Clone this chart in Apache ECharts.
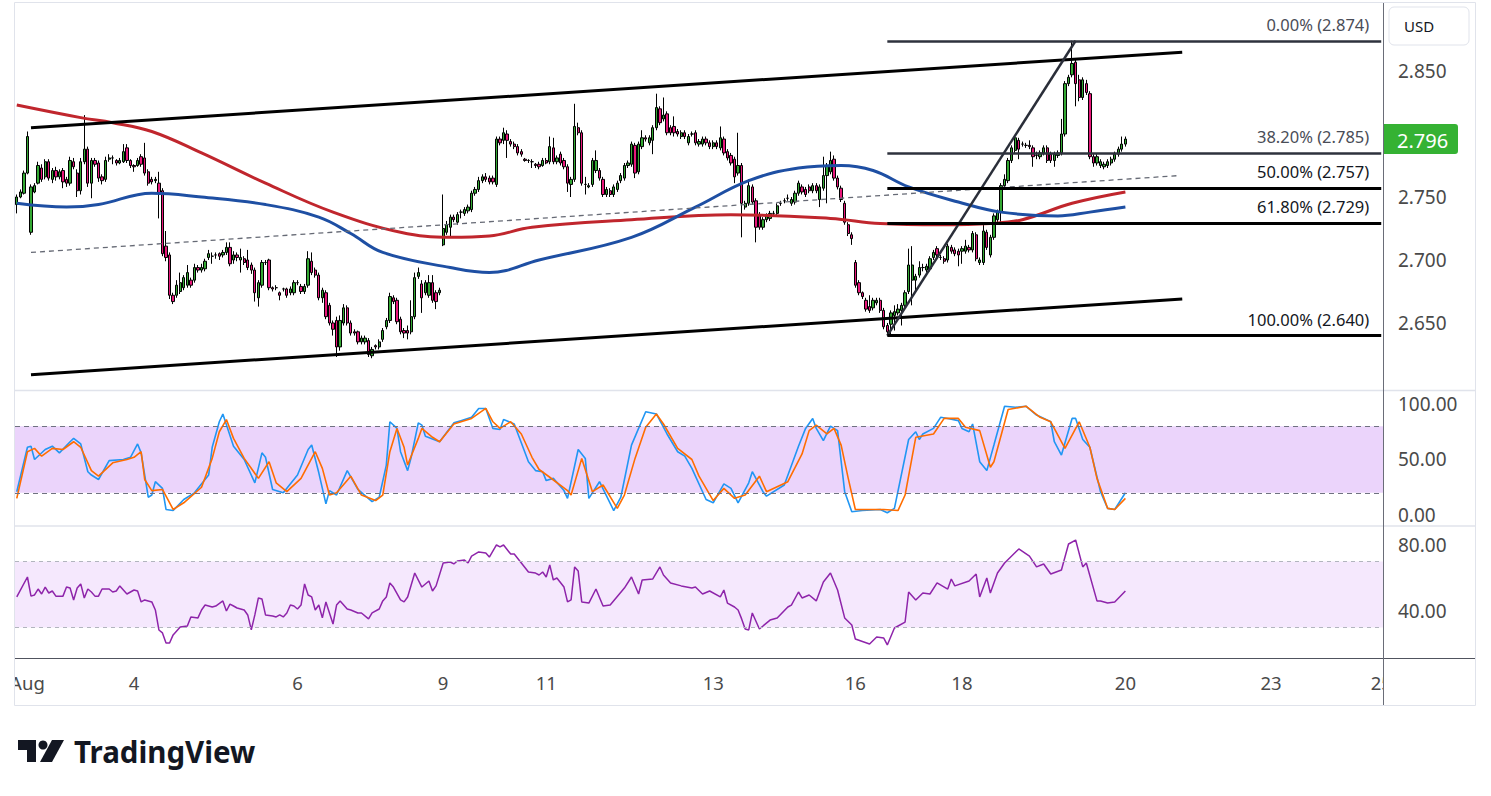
<!DOCTYPE html>
<html>
<head>
<meta charset="utf-8">
<title>Price chart</title>
<script src="https://cdn.jsdelivr.net/npm/echarts@6/dist/echarts.min.js"></script>
<style>
  html, body { margin: 0; padding: 0; background: #fff; }
  #chart { width: 1491px; height: 796px; }
</style>
</head>
<body>
<div id="chart"></div>
<script>
// hourly candles, one per slot from slot 0: [open, close, low, high]
const candles = [
  [2.744,2.750,2.737,2.752],[2.750,2.754,2.749,2.756],[2.753,2.769,2.752,2.771],[2.769,2.798,2.768,2.802],[2.722,2.758,2.720,2.760],
  [2.754,2.759,2.753,2.761],[2.761,2.775,2.760,2.778],[2.773,2.764,2.762,2.776],[2.766,2.778,2.764,2.780],[2.778,2.765,2.763,2.780],
  [2.764,2.771,2.761,2.773],[2.771,2.766,2.763,2.774],[2.766,2.770,2.764,2.772],[2.771,2.762,2.757,2.773],[2.764,2.761,2.758,2.766],
  [2.761,2.779,2.759,2.782],[2.778,2.774,2.772,2.781],[2.769,2.755,2.750,2.772],[2.755,2.778,2.752,2.781],[2.778,2.788,2.776,2.815],
  [2.788,2.761,2.758,2.790],[2.761,2.779,2.749,2.781],[2.779,2.776,2.774,2.781],[2.777,2.765,2.762,2.779],[2.766,2.763,2.760,2.768],
  [2.764,2.779,2.762,2.782],[2.780,2.781,2.778,2.784],[2.781,2.781,2.776,2.783],[2.779,2.777,2.775,2.780],[2.777,2.779,2.776,2.781],
  [2.778,2.786,2.777,2.792],[2.789,2.779,2.777,2.792],[2.779,2.775,2.773,2.780],[2.775,2.774,2.770,2.776],[2.775,2.779,2.774,2.781],
  [2.782,2.776,2.774,2.784],[2.781,2.769,2.767,2.793],[2.770,2.761,2.759,2.772],[2.764,2.762,2.760,2.766],[2.763,2.764,2.761,2.766],
  [2.761,2.753,2.733,2.770],[2.755,2.705,2.703,2.757],[2.711,2.702,2.699,2.723],[2.704,2.672,2.669,2.706],[2.672,2.667,2.665,2.674],
  [2.672,2.680,2.670,2.684],[2.675,2.682,2.673,2.690],[2.678,2.686,2.676,2.688],[2.680,2.690,2.678,2.696],[2.684,2.680,2.678,2.686],
  [2.684,2.694,2.682,2.697],[2.694,2.692,2.690,2.696],[2.692,2.694,2.690,2.697],[2.693,2.699,2.691,2.701],[2.702,2.705,2.700,2.708],
  [2.703,2.703,2.697,2.706],[2.704,2.704,2.701,2.706],[2.705,2.703,2.700,2.706],[2.704,2.706,2.702,2.708],[2.706,2.710,2.704,2.714],
  [2.710,2.697,2.695,2.714],[2.700,2.704,2.697,2.707],[2.704,2.702,2.699,2.706],[2.700,2.702,2.690,2.709],[2.701,2.698,2.696,2.703],
  [2.700,2.694,2.692,2.708],[2.696,2.692,2.689,2.698],[2.692,2.674,2.667,2.694],[2.670,2.682,2.663,2.684],[2.680,2.698,2.678,2.700],
  [2.698,2.698,2.696,2.700],[2.700,2.678,2.676,2.701],[2.678,2.677,2.675,2.679],[2.678,2.678,2.676,2.680],[2.674,2.672,2.668,2.675],
  [2.677,2.677,2.675,2.678],[2.677,2.672,2.670,2.678],[2.674,2.677,2.672,2.679],[2.674,2.682,2.672,2.684],[2.682,2.682,2.680,2.684],
  [2.679,2.675,2.673,2.681],[2.675,2.679,2.673,2.681],[2.680,2.701,2.678,2.707],[2.699,2.690,2.688,2.706],[2.692,2.688,2.686,2.694],
  [2.688,2.670,2.668,2.690],[2.670,2.676,2.666,2.678],[2.674,2.655,2.653,2.676],[2.664,2.650,2.648,2.666],[2.650,2.645,2.640,2.652],
  [2.652,2.631,2.623,2.655],[2.631,2.652,2.628,2.656],[2.650,2.662,2.648,2.665],[2.662,2.650,2.648,2.664],[2.650,2.642,2.640,2.652],
  [2.643,2.642,2.640,2.645],[2.643,2.635,2.633,2.644],[2.635,2.638,2.633,2.640],[2.635,2.638,2.633,2.640],[2.636,2.625,2.623,2.638],
  [2.624,2.629,2.622,2.631],[2.632,2.631,2.629,2.633],[2.631,2.635,2.629,2.637],[2.637,2.644,2.635,2.646],[2.647,2.652,2.645,2.654],
  [2.652,2.671,2.650,2.674],[2.670,2.667,2.665,2.672],[2.668,2.651,2.649,2.670],[2.653,2.643,2.641,2.655],[2.644,2.642,2.638,2.646],
  [2.644,2.642,2.637,2.648],[2.643,2.655,2.641,2.668],[2.655,2.686,2.653,2.690],[2.687,2.690,2.685,2.694],[2.681,2.670,2.658,2.684],
  [2.674,2.682,2.672,2.684],[2.672,2.682,2.670,2.688],[2.682,2.668,2.666,2.688],[2.674,2.667,2.661,2.676],[2.674,2.676,2.672,2.678],
  [2.712,2.725,2.711,2.752],[2.722,2.728,2.720,2.731],[2.726,2.734,2.718,2.736],[2.734,2.732,2.730,2.736],[2.730,2.736,2.728,2.738],
  [2.738,2.738,2.733,2.740],[2.737,2.740,2.735,2.742],[2.739,2.742,2.737,2.744],[2.740,2.753,2.738,2.755],[2.753,2.756,2.751,2.758],
  [2.756,2.763,2.754,2.766],[2.763,2.766,2.761,2.768],[2.766,2.764,2.762,2.769],[2.765,2.762,2.760,2.767],[2.765,2.762,2.760,2.767],
  [2.760,2.796,2.758,2.798],[2.796,2.793,2.791,2.798],[2.795,2.801,2.792,2.805],[2.800,2.795,2.781,2.803],[2.794,2.792,2.790,2.796],
  [2.792,2.790,2.788,2.794],[2.790,2.785,2.783,2.792],[2.786,2.784,2.782,2.788],[2.780,2.779,2.778,2.781],[2.779,2.779,2.777,2.780],
  [2.778,2.778,2.773,2.780],[2.776,2.775,2.773,2.777],[2.776,2.774,2.772,2.778],[2.775,2.779,2.774,2.781],[2.779,2.777,2.776,2.781],
  [2.778,2.790,2.776,2.798],[2.789,2.778,2.776,2.797],[2.778,2.781,2.776,2.783],[2.784,2.777,2.775,2.786],[2.779,2.774,2.772,2.781],
  [2.774,2.761,2.754,2.776],[2.760,2.764,2.750,2.766],[2.764,2.806,2.762,2.824],[2.805,2.801,2.799,2.809],[2.801,2.761,2.759,2.803],
  [2.760,2.760,2.752,2.766],[2.758,2.759,2.757,2.761],[2.760,2.779,2.758,2.781],[2.771,2.779,2.769,2.787],[2.771,2.765,2.763,2.773],
  [2.764,2.752,2.750,2.766],[2.752,2.756,2.750,2.758],[2.755,2.752,2.750,2.757],[2.752,2.758,2.750,2.760],[2.756,2.761,2.754,2.763],
  [2.763,2.767,2.761,2.769],[2.765,2.775,2.763,2.777],[2.775,2.777,2.773,2.779],[2.776,2.792,2.774,2.794],[2.791,2.769,2.765,2.793],
  [2.770,2.792,2.768,2.794],[2.790,2.797,2.788,2.803],[2.797,2.796,2.794,2.799],[2.793,2.797,2.791,2.799],[2.795,2.805,2.784,2.807],
  [2.805,2.821,2.803,2.832],[2.820,2.809,2.807,2.822],[2.812,2.815,2.810,2.829],[2.816,2.801,2.799,2.818],[2.805,2.801,2.799,2.807],
  [2.806,2.801,2.798,2.814],[2.802,2.800,2.798,2.804],[2.798,2.801,2.796,2.803],[2.801,2.798,2.796,2.803],[2.793,2.798,2.791,2.800],
  [2.800,2.800,2.798,2.802],[2.801,2.793,2.791,2.803],[2.792,2.794,2.790,2.796],[2.792,2.796,2.790,2.798],[2.796,2.793,2.791,2.798],
  [2.793,2.790,2.788,2.795],[2.790,2.793,2.788,2.795],[2.793,2.790,2.788,2.795],[2.789,2.797,2.787,2.806],[2.796,2.785,2.783,2.798],
  [2.786,2.781,2.779,2.788],[2.783,2.777,2.775,2.785],[2.780,2.766,2.761,2.782],[2.769,2.775,2.767,2.801],[2.775,2.745,2.718,2.777],
  [2.742,2.745,2.740,2.747],[2.745,2.759,2.743,2.764],[2.758,2.746,2.744,2.760],[2.747,2.726,2.714,2.749],[2.736,2.726,2.724,2.738],
  [2.726,2.732,2.724,2.734],[2.732,2.735,2.730,2.737],[2.733,2.737,2.731,2.739],[2.737,2.737,2.735,2.739],[2.737,2.743,2.735,2.745],
  [2.745,2.745,2.743,2.747],[2.747,2.747,2.745,2.749],[2.749,2.749,2.747,2.752],[2.745,2.748,2.743,2.750],[2.746,2.753,2.744,2.755],
  [2.753,2.761,2.751,2.763],[2.758,2.754,2.752,2.760],[2.756,2.752,2.750,2.758],[2.758,2.755,2.753,2.760],[2.755,2.759,2.753,2.761],
  [2.759,2.755,2.753,2.761],[2.748,2.758,2.742,2.760],[2.757,2.767,2.755,2.782],[2.767,2.775,2.745,2.777],[2.770,2.779,2.768,2.786],
  [2.780,2.765,2.763,2.783],[2.765,2.758,2.756,2.767],[2.757,2.748,2.746,2.759],[2.745,2.730,2.728,2.747],[2.728,2.721,2.719,2.730],
  [2.720,2.717,2.712,2.722],
  [2.698,2.680,2.678,2.700],[2.682,2.674,2.672,2.684],[2.674,2.671,2.669,2.675],[2.668,2.661,2.659,2.670],[2.663,2.660,2.658,2.672],
  [2.662,2.668,2.660,2.670],[2.666,2.668,2.664,2.670],[2.668,2.660,2.658,2.670],[2.660,2.647,2.645,2.662],[2.648,2.643,2.640,2.650],
  [2.649,2.658,2.641,2.660],[2.656,2.659,2.644,2.664],[2.658,2.661,2.656,2.665],[2.660,2.664,2.648,2.666],[2.664,2.674,2.662,2.676],
  [2.675,2.696,2.673,2.709],[2.684,2.696,2.664,2.711],[2.684,2.687,2.676,2.689],[2.688,2.694,2.686,2.699],[2.694,2.694,2.691,2.697],
  [2.692,2.695,2.690,2.697],[2.693,2.701,2.691,2.703],[2.702,2.706,2.700,2.708],[2.709,2.704,2.702,2.711],[2.702,2.702,2.700,2.704],
  [2.701,2.699,2.697,2.703],[2.700,2.711,2.698,2.713],[2.710,2.707,2.705,2.712],[2.708,2.705,2.703,2.710],[2.707,2.704,2.695,2.709],
  [2.707,2.709,2.697,2.711],[2.707,2.711,2.705,2.716],[2.710,2.708,2.706,2.712],[2.708,2.721,2.706,2.723],[2.720,2.701,2.699,2.722],
  [2.698,2.700,2.696,2.702],[2.698,2.723,2.696,2.730],[2.722,2.710,2.708,2.724],[2.704,2.718,2.702,2.720],[2.718,2.735,2.716,2.737],
  [2.732,2.738,2.730,2.740],[2.738,2.759,2.730,2.761],[2.759,2.764,2.757,2.768],[2.763,2.779,2.761,2.781],[2.779,2.789,2.777,2.791],
  [2.787,2.797,2.785,2.799],[2.795,2.788,2.780,2.797],[2.792,2.792,2.790,2.794],[2.791,2.791,2.789,2.793],[2.791,2.790,2.788,2.795],
  [2.789,2.782,2.774,2.791],[2.783,2.783,2.780,2.786],[2.782,2.785,2.780,2.787],[2.785,2.789,2.783,2.791],[2.789,2.779,2.777,2.791],
  [2.784,2.779,2.777,2.786],[2.779,2.784,2.774,2.786],[2.783,2.785,2.781,2.787],[2.785,2.800,2.783,2.812],[2.800,2.840,2.798,2.842],
  [2.840,2.845,2.838,2.847],[2.847,2.856,2.845,2.874],[2.857,2.840,2.822,2.860],[2.843,2.829,2.826,2.847],[2.829,2.843,2.827,2.845],
  [2.840,2.833,2.831,2.843],[2.832,2.782,2.780,2.834],[2.782,2.777,2.774,2.784],[2.777,2.782,2.775,2.784],[2.775,2.778,2.773,2.780],
  [2.774,2.776,2.772,2.778],[2.775,2.778,2.773,2.780],[2.777,2.780,2.775,2.782],[2.780,2.784,2.778,2.786],[2.784,2.788,2.782,2.790],
  [2.788,2.792,2.786,2.798],[2.792,2.796,2.790,2.798]
];

// moving averages, [slot, price]
const maSlow = [[0,2.823],[18,2.813],[27,2.809],[38,2.802],[52,2.785],[70,2.761],[89,2.738],[108,2.722],[122,2.718],[133,2.719],
  [145,2.726],[173,2.732],[201,2.736],[229,2.733],[243,2.729],[260,2.728],[274,2.729],[283,2.732],[297,2.745],[312,2.754]];
const maFast = [[0,2.745],[14,2.742],[23,2.744],[38,2.753],[52,2.750],[70,2.744],[85,2.734],[94,2.721],[103,2.706],[122,2.694],
  [133,2.690],[147,2.700],[173,2.718],[191,2.742],[206,2.763],[220,2.773],[232,2.775],[241,2.771],[251,2.758],[265,2.746],
  [277,2.738],[293,2.735],[302,2.738],[312,2.742]];

// stochastic %K and %D, [slot, value]
const stochK = [[0,21],[3,61],[4,62],[5,50],[8,59],[10,62],[12,56],[15,66],[16,69],[18,64],[20,39],[21,36],[23,32],[26,49],[30,50],
  [32,52],[34,64],[35,56],[37,16],[38,18],[39,30],[41,24],[42,5],[44,4],[47,14],[50,20],[54,36],[55,61],[57,84],[58,91],[61,62],
  [64,50],[67,29],[69,56],[70,52],[72,23],[75,20],[79,36],[82,59],[83,63],[85,38],[87,10],[88,22],[90,18],[93,40],[96,23],[100,12],
  [102,16],[104,45],[105,84],[107,78],[108,57],[110,40],[111,52],[113,83],[114,81],[115,71],[119,66],[123,83],[125,85],[128,88],
  [130,96],[132,96],[134,78],[136,77],[137,86],[140,82],[144,48],[146,40],[148,39],[149,31],[151,33],[154,22],[155,15],[158,59],
  [159,55],[160,51],[161,15],[164,30],[168,4],[170,16],[173,63],[175,78],[177,93],[180,91],[183,73],[186,57],[188,53],[190,42],
  [194,14],[196,11],[199,28],[201,24],[203,11],[206,29],[207,39],[210,21],[211,17],[216,27],[220,62],[222,78],[224,87],[225,78],
  [227,67],[229,80],[231,76],[233,21],[235,3],[238,4],[243,5],[245,2],[247,6],[251,68],[253,75],[254,68],[255,73],[258,78],
  [260,88],[262,87],[265,85],[266,78],[268,75],[269,82],[271,48],[273,40],[275,63],[278,98],[281,97],[284,98],[287,90],[291,84],
  [292,66],[294,54],[297,87],[298,87],[300,68],[302,61],[305,21],[307,6],[309,5],[312,20]];
const stochD = [[0,15],[3,57],[5,60],[7,53],[10,60],[13,59],[16,66],[18,61],[21,40],[23,35],[27,47],[31,50],[33,52],[35,57],[36,32],
  [38,22],[41,23],[44,5],[47,11],[52,25],[55,51],[57,75],[59,86],[61,69],[64,51],[68,33],[71,48],[73,29],[76,21],[80,33],[84,57],
  [86,42],[88,18],[90,20],[94,35],[97,18],[101,13],[103,18],[105,57],[107,78],[109,61],[110,45],[113,69],[114,78],[117,70],[119,66],
  [123,82],[128,87],[132,96],[134,84],[136,78],[139,84],[142,73],[145,52],[147,41],[150,34],[155,22],[156,18],[159,51],[162,21],
  [165,27],[169,6],[171,18],[174,51],[177,79],[180,91],[182,82],[186,60],[190,50],[192,35],[196,13],[199,24],[202,15],[205,18],
  [209,35],[211,21],[217,30],[221,55],[223,76],[225,81],[228,73],[230,78],[232,63],[234,33],[236,5],[244,5],[248,4],[250,18],
  [253,70],[258,73],[261,87],[265,87],[267,79],[271,76],[274,43],[275,48],[279,95],[284,98],[288,88],[291,84],[295,60],[299,84],
  [302,61],[304,33],[307,6],[309,5],[312,15]];

// RSI, [slot, value]
const rsi = [[0,48.5],[3,60.6],[4,49],[5,49.7],[6,53.3],[7,50.3],[8,54.5],[9,50.9],[10,52.1],[11,49],[13,49],[14,54.5],[15,53.9],
  [16,46.7],[17,53.9],[18,56.4],[19,47.9],[20,53.3],[21,51.5],[22,49],[23,49],[24,53.3],[26,53.3],[27,51.5],[28,52.1],[29,55.2],
  [31,50.3],[33,52.7],[34,52.1],[35,45.5],[36,46.7],[38,45.5],[39,40.6],[40,28.5],[41,26.7],[42,20.6],[43,20.6],[44,25.5],[46,30.3],
  [48,30.9],[49,36.4],[51,35.8],[52,40.6],[53,43.6],[55,42.4],[56,43],[58,46.1],[59,40],[60,44.2],[61,43],[62,41.8],[64,40.6],
  [65,37.6],[66,28.5],[67,37.6],[68,47.9],[69,47.3],[70,37.6],[72,37],[73,36.4],[74,37.6],[75,36.4],[76,38.8],[77,43.6],[78,43],
  [79,41.2],[80,43.6],[81,56.4],[82,49.7],[83,48.5],[84,40.6],[85,43.6],[86,35.8],[87,45.5],[89,32.1],[90,43.6],[91,46.1],[93,41.2],
  [94,40.6],[96,38.8],[97,38.8],[99,35.2],[100,38.8],[102,41.2],[103,46.1],[104,48.5],[105,57],[106,54.5],[108,46.7],[109,45.5],
  [110,48.5],[112,63],[114,54.5],[116,58.2],[117,52.1],[118,55.2],[120,69.1],[122,69.7],[123,68.5],[124,70.3],[126,70.9],[127,69.1],
  [128,73.3],[130,75.8],[132,75.2],[133,72.7],[135,80],[136,78.8],[137,80],[139,74.5],[140,74.5],[142,69.1],[144,63.6],[146,63],
  [147,61.8],[148,63.6],[149,60.6],[150,67.9],[151,58.8],[152,60],[154,54.5],[155,45.5],[156,46.7],[157,66.7],[158,64.2],[159,45.5],
  [161,44.8],[163,53.3],[165,43],[167,43.6],[171,53.9],[173,60.6],[175,50.3],[176,58.8],[179,59.4],[181,66.7],[182,61.8],[184,57],
  [187,55.2],[190,53.9],[191,54.5],[193,50.3],[195,52.1],[198,48.5],[199,52.7],[200,44.8],[202,42.4],[203,40.6],[204,35.2],[205,29.1],
  [206,28.5],[207,38.8],[209,29.1],[212,34.5],[214,35.8],[217,42.4],[218,43.6],[220,51.5],[221,47.9],[223,49.7],[225,46.1],[227,57.6],
  [229,63],[231,52.7],[233,35.8],[235,31.5],[236,23],[240,20],[242,24.2],[244,23.6],[245,19.4],[247,29.7],[250,33.3],[251,51.5],
  [253,46.7],[255,50.9],[257,50.3],[259,57],[262,53.3],[263,59.4],[264,55.2],[268,58.2],[270,62.4],[271,48.5],[273,60],[274,50.9],
  [275,57],[276,63],[278,69.1],[282,77.6],[285,73.3],[287,66.7],[289,68.5],[291,62.4],[294,64.8],[296,80.6],[298,83],[300,66.7],
  [301,69.1],[304,46.1],[305,46.1],[307,44.8],[309,45.5],[312,52.1]];

// drawn lines, [slot, price] end points
const channelTop = [[4,2.805],[328,2.865]];
const channelBottom = [[4,2.609],[328,2.669]];
const channelMid = [[4,2.706],[327,2.767]];
const swingLine = [[245,2.640],[298,2.874]];

// fibonacci retracement
const fibLevels = [0, 38.2, 50, 61.8, 100];
const fibPrices = [2.874, 2.785, 2.757, 2.729, 2.640];
const fibStart = 245, fibEnd = 384;

// time axis
const slotCount = 385;
const tickSlots = [3, 33, 79, 120, 149, 196, 236, 266, 312, 353, 384];
const tickLabels = ['Aug', '4', '6', '9', '11', '13', '16', '18', '20', '23', '25'];

const priceTicks = [2.65, 2.70, 2.75, 2.85];
const stochTicks = [0, 50, 100];
const rsiTicks = [40, 80];

const categories = Array.from({ length: slotCount }, (_, i) => String(i));
const lastClose = candles[candles.length - 1][1];

const font = 'Noto Sans';
const axisText = { color: '#4a4a4a', fontSize: 19, fontFamily: font };

function segment(pts, style) {
  return [{ coord: pts[0], lineStyle: style }, { coord: pts[1] }];
}

const fibLines = fibLevels.map((lvl, i) => {
  const soft = i < 2;
  return [
    {
      coord: [fibStart, fibPrices[i]],
      lineStyle: { color: soft ? '#2e323d' : '#000', width: soft ? 2.6 : 3, type: 'solid' },
      label: {
        show: true,
        position: 'insideEndTop',
        distance: [12, 8],
        formatter: lvl.toFixed(2) + '% (' + fibPrices[i].toFixed(3) + ')',
        color: soft ? '#4a4d57' : '#131722',
        fontSize: 16.5,
        fontFamily: font
      }
    },
    { coord: [fibEnd, fibPrices[i]] }
  ];
});

const chart = echarts.init(document.getElementById('chart'), null, { renderer: 'svg' });

const baseX = {
  type: 'category',
  data: categories,
  boundaryGap: true,
  axisLine: { show: false },
  axisTick: { show: false },
  splitLine: { show: false },
  axisLabel: { show: false }
};

const baseY = {
  type: 'value',
  position: 'right',
  axisLine: { show: false },
  axisTick: { show: false },
  splitLine: { show: false }
};

chart.setOption({
  animation: false,
  backgroundColor: '#fff',
  textStyle: { fontFamily: font },
  grid: [
    { left: 15, width: 1368, top: 3, height: 387 },
    { left: 15, width: 1368, top: 391, height: 134 },
    { left: 15, width: 1368, top: 527, height: 131 }
  ],
  xAxis: [
    Object.assign({}, baseX, { gridIndex: 0 }),
    Object.assign({}, baseX, { gridIndex: 1 }),
    Object.assign({}, baseX, {
      gridIndex: 2,
      axisLabel: {
        show: true,
        interval: (i) => tickSlots.includes(i),
        formatter: (v, i) => tickLabels[tickSlots.indexOf(i)] || '',
        color: '#4a4a4a',
        fontSize: 18.5,
        fontFamily: font,
        margin: 15
      }
    })
  ],
  yAxis: [
    Object.assign({}, baseY, {
      gridIndex: 0, min: 2.5968, max: 2.904,
      axisLabel: Object.assign({ customValues: priceTicks, margin: 15, formatter: (v) => v.toFixed(3) }, axisText)
    }),
    Object.assign({}, baseY, {
      gridIndex: 1, min: -9, max: 111.7,
      axisLabel: Object.assign({ customValues: stochTicks, margin: 15, formatter: (v) => v.toFixed(2) }, axisText)
    }),
    Object.assign({}, baseY, {
      gridIndex: 2, min: 11.5, max: 90.9,
      axisLabel: Object.assign({ customValues: rsiTicks, margin: 15, formatter: (v) => v.toFixed(2) }, axisText)
    })
  ],
  series: [
    {
      type: 'candlestick',
      xAxisIndex: 0,
      yAxisIndex: 0,
      data: candles,
      barWidth: 2.8,
      z: 2,
      silent: true,
      itemStyle: {
        color: '#33a833',
        color0: '#e8177a',
        borderColor: '#000',
        borderColor0: '#000',
        borderWidth: 1
      },
      markLine: {
        silent: true,
        symbol: ['none', 'none'],
        label: { show: false },
        data: [
          segment(channelTop, { color: '#000', width: 3, type: 'solid' }),
          segment(channelBottom, { color: '#000', width: 3, type: 'solid' }),
          segment(channelMid, { color: '#666a75', width: 1.3, type: [5, 4] }),
          segment(swingLine, { color: '#2a2e39', width: 2.5, type: 'solid' })
        ].concat(fibLines)
      }
    },
    {
      type: 'line', xAxisIndex: 0, yAxisIndex: 0, data: maSlow, smooth: 0.4,
      symbol: 'none', z: 3, silent: true, lineStyle: { color: '#c0262d', width: 3 }
    },
    {
      type: 'line', xAxisIndex: 0, yAxisIndex: 0, data: maFast, smooth: 0.4,
      symbol: 'none', z: 3, silent: true, lineStyle: { color: '#1e4fa3', width: 3 }
    },
    {
      type: 'line', xAxisIndex: 1, yAxisIndex: 1, data: stochK,
      symbol: 'none', silent: true, z: 3, lineStyle: { color: '#2196f3', width: 1.6 },
      markArea: {
        silent: true,
        itemStyle: { color: '#ebd4fb' },
        data: [[{ yAxis: 20 }, { yAxis: 80 }]]
      },
      markLine: {
        silent: true,
        symbol: ['none', 'none'],
        label: { show: false },
        lineStyle: { color: '#6f7280', width: 1, type: [5, 4] },
        data: [{ yAxis: 20 }, { yAxis: 80 }]
      }
    },
    {
      type: 'line', xAxisIndex: 1, yAxisIndex: 1, data: stochD,
      symbol: 'none', silent: true, z: 3, lineStyle: { color: '#ff6d00', width: 1.6 }
    },
    {
      type: 'line', xAxisIndex: 2, yAxisIndex: 2, data: rsi,
      symbol: 'none', silent: true, z: 3, lineStyle: { color: '#8e24aa', width: 1.5 },
      markArea: {
        silent: true,
        itemStyle: { color: '#f5e8fd' },
        data: [[{ yAxis: 30 }, { yAxis: 70 }]]
      },
      markLine: {
        silent: true,
        symbol: ['none', 'none'],
        label: { show: false },
        lineStyle: { color: '#b2b5be', width: 1, type: [4, 4] },
        data: [{ yAxis: 30 }, { yAxis: 70 }]
      }
    }
  ]
});

// price tag, panel borders and logo
const tagY = chart.convertToPixel({ yAxisIndex: 0 }, lastClose);
const frame = '#e0e3eb';
const ink = '#131722';

chart.setOption({
  graphic: [
    { type: 'rect', z: 100, shape: { x: 0, y: 660, width: 14, height: 45 }, style: { fill: '#fff' } },
    { type: 'rect', z: 100, shape: { x: 1384, y: 661, width: 90, height: 43 }, style: { fill: '#fff' } },
    { type: 'rect', z: 101, shape: { x: 14.5, y: 2.5, width: 1461, height: 703 }, style: { fill: 'none', stroke: frame, lineWidth: 1 } },
    { type: 'line', z: 101, shape: { x1: 15, y1: 390.5, x2: 1475, y2: 390.5 }, style: { stroke: frame, lineWidth: 1.5 } },
    { type: 'line', z: 101, shape: { x1: 15, y1: 526, x2: 1475, y2: 526 }, style: { stroke: frame, lineWidth: 1.5 } },
    { type: 'line', z: 101, shape: { x1: 15, y1: 658.5, x2: 1475, y2: 658.5 }, style: { stroke: '#50535e', lineWidth: 1.2 } },
    { type: 'line', z: 101, shape: { x1: 1383.5, y1: 3, x2: 1383.5, y2: 705 }, style: { stroke: '#6a6d78', lineWidth: 1 } },
    { type: 'rect', z: 101, shape: { x: 1389, y: 7, width: 80, height: 38, r: 5 }, style: { fill: '#fff', stroke: frame, lineWidth: 1 } },
    { type: 'text', z: 102, style: { x: 1404, y: 26, text: 'USD', fill: ink, fontSize: 15, fontFamily: font, verticalAlign: 'middle' } },
    { type: 'rect', z: 102, shape: { x: 1384, y: tagY - 15, width: 74, height: 30, r: [0, 3, 3, 0] }, style: { fill: '#35b233' } },
    { type: 'text', z: 103, style: { x: 1397, y: tagY + 1, text: lastClose.toFixed(3), fill: '#fff', fontSize: 20, fontFamily: font, verticalAlign: 'middle' } },
    { type: 'rect', z: 102, shape: { x: 18, y: 740, width: 18, height: 10 }, style: { fill: ink } },
    { type: 'rect', z: 102, shape: { x: 27, y: 740, width: 9, height: 22 }, style: { fill: ink } },
    { type: 'circle', z: 102, shape: { cx: 43, cy: 745, r: 4.5 }, style: { fill: ink } },
    { type: 'polygon', z: 102, shape: { points: [[52, 740], [64, 740], [52, 762], [40, 762]] }, style: { fill: ink } },
    { type: 'text', z: 102, style: { x: 74, y: 751, text: 'TradingView', fill: ink, fontSize: 29.5, fontWeight: 'bold', fontFamily: font, verticalAlign: 'middle' } }
  ]
});
</script>
</body>
</html>
